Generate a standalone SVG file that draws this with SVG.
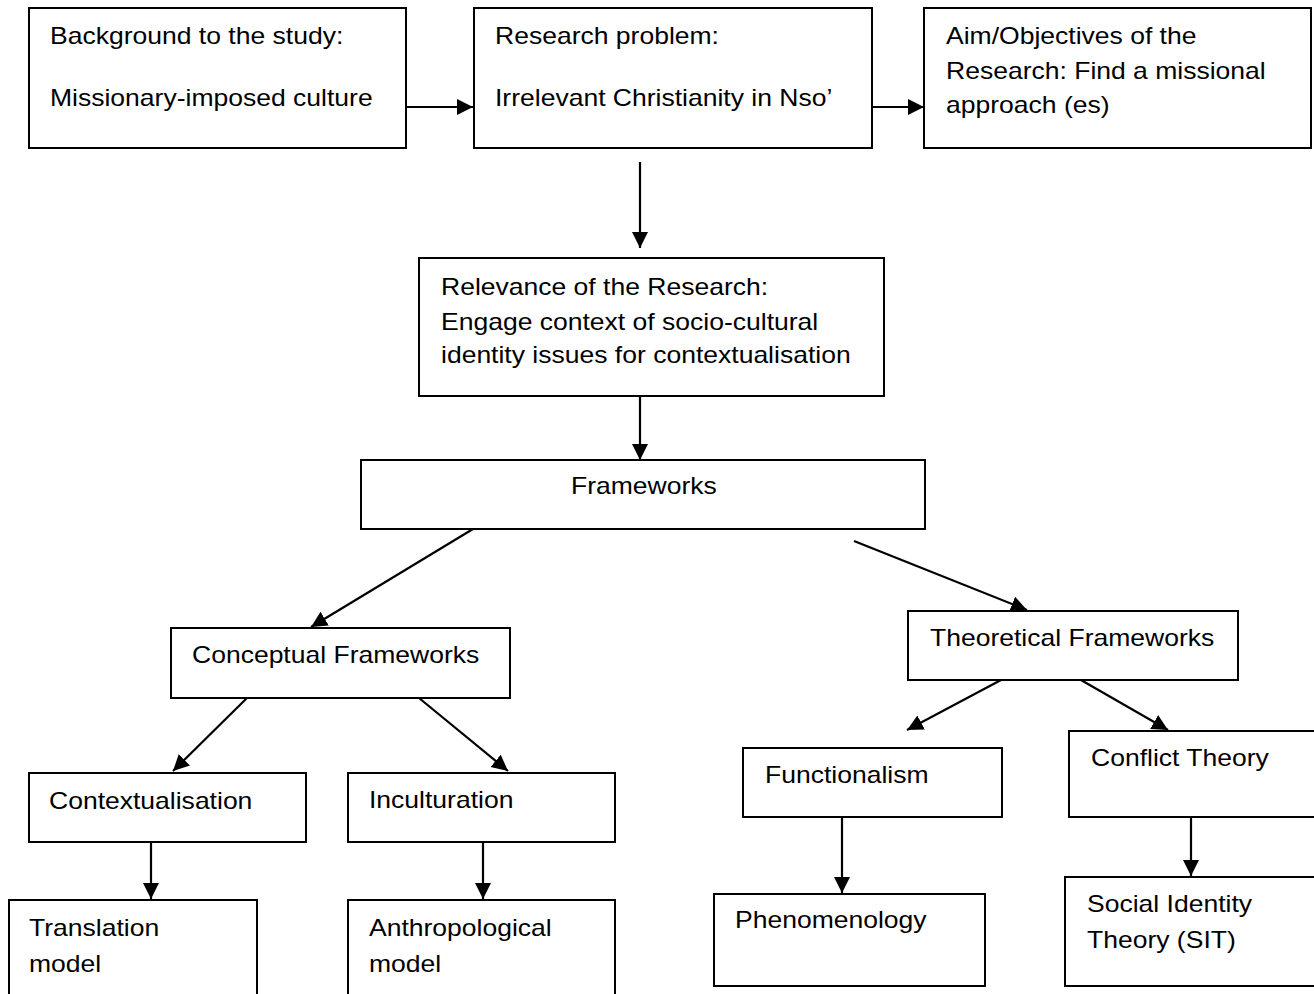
<svg xmlns="http://www.w3.org/2000/svg" width="1314" height="994" viewBox="0 0 1314 994">
<style>
.box{fill:#fff;stroke:#000;stroke-width:2}
.t{font-family:"Liberation Sans",Arial,sans-serif;font-size:24px;fill:#000}
.c{fill:none;stroke:#000;stroke-width:2.2;marker-end:url(#ah)}
</style>
<defs>
<marker id="ah" markerUnits="userSpaceOnUse" markerWidth="18" markerHeight="18" refX="16" refY="8" orient="auto">
<path d="M0,0 L16,8 L0,16 z" fill="#000"/>
</marker>
</defs>
<rect width="1314" height="994" fill="#fff"/>
<g id="connectors">
<line class="c" x1="406" y1="107" x2="473" y2="107"/>
<line class="c" x1="872" y1="107" x2="924" y2="107"/>
<line class="c" x1="640" y1="162" x2="640" y2="248"/>
<line class="c" x1="640" y1="396" x2="640" y2="460"/>
<line class="c" x1="473" y1="529" x2="311" y2="627"/>
<line class="c" x1="854" y1="541" x2="1027" y2="610"/>
<line class="c" x1="247" y1="698" x2="173" y2="771"/>
<line class="c" x1="419" y1="698" x2="508" y2="771"/>
<line class="c" x1="1001" y1="680" x2="907" y2="730"/>
<line class="c" x1="1081" y1="680" x2="1168" y2="730"/>
<line class="c" x1="151" y1="842" x2="151" y2="899"/>
<line class="c" x1="483" y1="842" x2="483" y2="899"/>
<line class="c" x1="842" y1="817" x2="842" y2="893"/>
<line class="c" x1="1191" y1="817" x2="1191" y2="876"/>
</g>
<g id="background">
<rect class="box" x="29" y="8" width="377" height="140"/>
<text class="t" transform="translate(50,44) scale(1.105,1)">Background to the study:</text>
<text class="t" transform="translate(50,106) scale(1.105,1)">Missionary-imposed culture</text>
</g>
<g id="problem">
<rect class="box" x="474" y="8" width="398" height="140"/>
<text class="t" transform="translate(495,44) scale(1.105,1)">Research problem:</text>
<text class="t" transform="translate(495,106) scale(1.105,1)">Irrelevant Christianity in Nso’</text>
</g>
<g id="aim">
<rect class="box" x="924" y="8" width="387" height="140"/>
<text class="t" transform="translate(946,44) scale(1.105,1)">Aim/Objectives of the</text>
<text class="t" transform="translate(946,79) scale(1.105,1)">Research: Find a missional</text>
<text class="t" transform="translate(946,113) scale(1.105,1)">approach (es)</text>
</g>
<g id="relevance">
<rect class="box" x="419" y="258" width="465" height="138"/>
<text class="t" transform="translate(441,295) scale(1.105,1)">Relevance of the Research:</text>
<text class="t" transform="translate(441,330) scale(1.105,1)">Engage context of socio-cultural</text>
<text class="t" transform="translate(441,363) scale(1.105,1)">identity issues for contextualisation</text>
</g>
<g id="frameworks">
<rect class="box" x="361" y="460" width="564" height="69"/>
<text class="t" transform="translate(571,494) scale(1.105,1)">Frameworks</text>
</g>
<g id="conceptual">
<rect class="box" x="171" y="628" width="339" height="70"/>
<text class="t" transform="translate(192,663) scale(1.105,1)">Conceptual Frameworks</text>
</g>
<g id="theoretical">
<rect class="box" x="908" y="611" width="330" height="69"/>
<text class="t" transform="translate(930,646) scale(1.105,1)">Theoretical Frameworks</text>
</g>
<g id="contextualisation">
<rect class="box" x="29" y="773" width="277" height="69"/>
<text class="t" transform="translate(49,809) scale(1.105,1)">Contextualisation</text>
</g>
<g id="inculturation">
<rect class="box" x="348" y="773" width="267" height="69"/>
<text class="t" transform="translate(369,808) scale(1.105,1)">Inculturation</text>
</g>
<g id="functionalism">
<rect class="box" x="743" y="748" width="259" height="69"/>
<text class="t" transform="translate(765,783) scale(1.105,1)">Functionalism</text>
</g>
<g id="conflict">
<rect class="box" x="1069" y="731" width="260" height="86"/>
<text class="t" transform="translate(1091,766) scale(1.105,1)">Conflict Theory</text>
</g>
<g id="translation">
<rect class="box" x="9" y="900" width="248" height="110"/>
<text class="t" transform="translate(29,936) scale(1.105,1)">Translation</text>
<text class="t" transform="translate(29,972) scale(1.105,1)">model</text>
</g>
<g id="anthropological">
<rect class="box" x="348" y="900" width="267" height="110"/>
<text class="t" transform="translate(369,936) scale(1.105,1)">Anthropological</text>
<text class="t" transform="translate(369,972) scale(1.105,1)">model</text>
</g>
<g id="phenomenology">
<rect class="box" x="714" y="894" width="271" height="92"/>
<text class="t" transform="translate(735,928) scale(1.105,1)">Phenomenology</text>
</g>
<g id="sit">
<rect class="box" x="1065" y="877" width="264" height="109"/>
<text class="t" transform="translate(1087,912) scale(1.105,1)">Social Identity</text>
<text class="t" transform="translate(1087,948) scale(1.105,1)">Theory (SIT)</text>
</g>
</svg>
